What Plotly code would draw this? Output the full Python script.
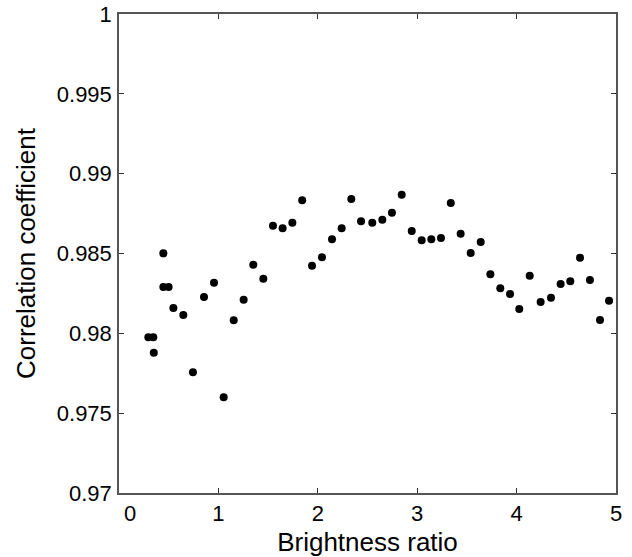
import plotly.graph_objects as go

brightness_ratio = [0.295, 0.345, 0.35, 0.446, 0.446, 0.499, 0.547, 0.647, 0.744, 0.855,
                    0.956, 1.053, 1.154, 1.254, 1.351, 1.452, 1.549, 1.646, 1.744, 1.843,
                    1.942, 2.042, 2.143, 2.240, 2.337, 2.435, 2.548, 2.649, 2.746, 2.844,
                    2.945, 3.045, 3.142, 3.239, 3.338, 3.437, 3.538, 3.639, 3.736, 3.836,
                    3.934, 4.027, 4.132, 4.242, 4.346, 4.443, 4.540, 4.638, 4.738, 4.839, 4.93]
correlation = [0.97975, 0.97975, 0.97879, 0.98501, 0.98290, 0.98290, 0.98159, 0.98115, 0.97756, 0.98228,
               0.98317, 0.97599, 0.98082, 0.98211, 0.98430, 0.98342, 0.98674, 0.98658, 0.98693, 0.98833,
               0.98424, 0.98476, 0.98589, 0.98658, 0.98841, 0.98702, 0.98693, 0.98712, 0.98756, 0.98868,
               0.98641, 0.98583, 0.98589, 0.98597, 0.98816, 0.98624, 0.98503, 0.98572, 0.98370, 0.98282,
               0.98246, 0.98152, 0.98361, 0.98196, 0.98223, 0.98309, 0.98326, 0.98474, 0.98334, 0.98084, 0.98204]

x_ticks = [0, 1, 2, 3, 4, 5]
x_ticklabels = ["\u2002\u20020", "1", "2", "3", "4", "5"]
y_ticks = [0.97, 0.975, 0.98, 0.985, 0.99, 0.995, 1.0]
y_ticklabels = ["0.97", "0.975", "0.98", "0.985", "0.99", "0.995", "1"]

fig = go.Figure()
fig.add_trace(go.Scatter(
    x=brightness_ratio, y=correlation, mode="markers",
    marker=dict(color="black", size=8),
    showlegend=False, hoverinfo="skip",
))

font_family = "Arial, Liberation Sans, sans-serif"
axis_common = dict(
    showline=True, linecolor="#555555", linewidth=1.5, mirror="ticks",
    ticks="inside", ticklen=5, tickcolor="#333333", tickwidth=1,
    showgrid=False, zeroline=False, automargin=False,
    ticklabeloverflow="allow",
    tickfont=dict(family=font_family, size=22, color="black"),
)
fig.update_xaxes(
    range=[0, 5], tickvals=x_ticks, ticktext=x_ticklabels,
    title=dict(text="Brightness ratio", font=dict(family=font_family, size=26, color="black"), standoff=9),
    **axis_common,
)
fig.update_yaxes(
    range=[0.97, 1.0], tickvals=y_ticks, ticktext=y_ticklabels,
    title=dict(text="Correlation coefficient", font=dict(family=font_family, size=26, color="black"), standoff=14),
    ticklabelstandoff=1,
    **axis_common,
)
fig.update_layout(
    width=632, height=557,
    margin=dict(l=119, r=16, t=14, b=64),
    paper_bgcolor="white", plot_bgcolor="white",
)
fig.write_html("out.html", config={"displayModeBar": False},
               post_script="document.body.style.margin='0';")
